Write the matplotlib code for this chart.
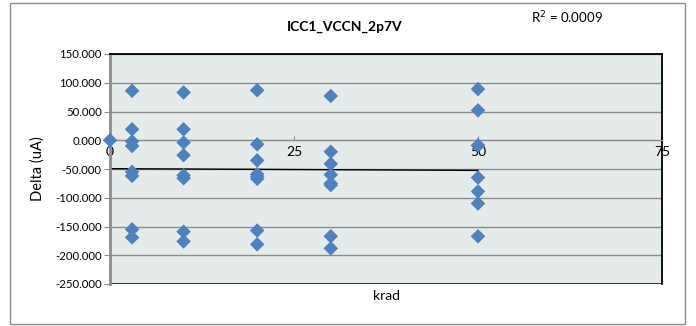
#### Workspace setup ####
import matplotlib
matplotlib.use('Agg')
import matplotlib.pyplot as plt
from matplotlib.patches import Rectangle
import numpy as np

plt.rcParams['font.family'] = ['Lato', 'DejaVu Sans']

#### Data ####
krad = [0,
        3, 3, 3, 3, 3, 3, 3, 3,
        10, 10, 10, 10, 10, 10, 10, 10,
        20, 20, 20, 20, 20, 20, 20, 20,
        30, 30, 30, 30, 30, 30, 30, 30,
        50, 50, 50, 50, 50, 50, 50, 50]
delta = [0,
         86, 19, -2, -10, -55, -62, -155, -169,
         83, 19, -4, -26, -61, -66, -159, -176,
         87, -7, -35, -59, -63, -67, -157, -181,
         77, -20, -41, -60, -75, -78, -167, -188,
         89, 52, -9, -9, -65, -89, -110, -167]
x_ticks = [0, 25, 50, 75]
y_ticks = [150, 100, 50, 0, -50, -100, -150, -200, -250]
title = 'ICC1_VCCN_2p7V'
r2_label = 'R$^2$ = 0.0009'

#### Plot ####
fig = plt.figure(figsize=(6.96, 3.26), dpi=100)
ax = fig.add_axes([110 / 696, 1 - 284 / 326, 552 / 696, 230 / 326])
ax.set_facecolor('#E5EBEB')

# outer chart frame
fig.patches.append(Rectangle((10 / 696, 2 / 326), 675 / 696, 321 / 326,
                             transform=fig.transFigure, fill=False,
                             edgecolor='#8C8C8C', linewidth=1))

ax.set_xlim(0, 75)
ax.set_ylim(-250, 150)
ax.set_yticks(y_ticks)
ax.set_yticklabels(['%.3f' % v for v in y_ticks], fontsize=8.2)
ax.set_xticks(x_ticks)
ax.set_xticklabels([str(v) for v in x_ticks], fontsize=8.5)
ax.yaxis.grid(True, color='#8C8C8C', linewidth=1)
ax.set_axisbelow(True)

# plot area border black, x axis crossing at 0 in gray
for side in ['top', 'right']:
    ax.spines[side].set_color('black')
    ax.spines[side].set_linewidth(1.3)
ax.spines['left'].set_color('#8C8C8C')
ax.spines['left'].set_linewidth(2)
ax.spines['bottom'].set_position(('data', 0))
ax.spines['bottom'].set_color('#8C8C8C')
ax.axhline(-250, color='black', linewidth=1.8, zorder=1)
ax.tick_params(axis='y', direction='out', length=4, color='#8C8C8C', pad=2)
ax.tick_params(axis='x', direction='in', length=3, color='#8C8C8C', pad=4)

ax.scatter(krad, delta, marker='D', s=55, color='#4F81BD', edgecolors='none',
           zorder=3, clip_on=False)

# linear trendline over the data range
k, b = np.polyfit(krad, delta, 1)
xs = np.array([min(krad), max(krad)])
ax.plot(xs, k * xs + b, color='black', linewidth=1, zorder=2)

fig.text(345 / 696, 1 - 27 / 326, title, ha='center', va='center',
         fontsize=10, fontweight='bold')
fig.text(567 / 696, 1 - 18 / 326, r2_label, ha='center', va='center', fontsize=9.5)
fig.text(386 / 696, 1 - 296 / 326, 'krad', ha='center', va='center', fontsize=10)
fig.text(38 / 696, 1 - 169 / 326, 'Delta (uA)', ha='center', va='center',
         rotation=90, fontsize=10.5)

plt.savefig('out.png', dpi=100)
plt.close()
